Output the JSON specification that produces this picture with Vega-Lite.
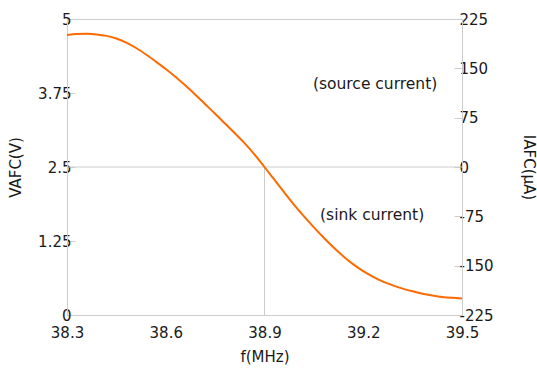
{
  "$schema": "https://vega.github.io/schema/vega-lite/v6.json",
  "width": 395,
  "height": 296,
  "autosize": "none",
  "padding": {"left": 67, "top": 19, "right": 75, "bottom": 61},
  "config": {
    "font": "DejaVu Sans",
    "view": {"stroke": "#cccccc", "strokeWidth": 1},
    "axis": {
      "grid": false,
      "domainColor": "#cccccc",
      "tickColor": "#cccccc",
      "labelFontSize": 15,
      "labelColor": "#1a1a1a",
      "titleFontSize": 15,
      "titleFontWeight": "normal",
      "titleColor": "#1a1a1a",
      "labelExpr": "'' + datum.value"
    }
  },
  "encoding": {
    "x": {
      "field": "f",
      "type": "quantitative",
      "scale": {"domain": [38.3, 39.5], "nice": false, "zero": false},
      "axis": {
        "title": "f(MHz)",
        "values": [38.3, 38.6, 38.9, 39.2, 39.5],
        "ticks": false,
        "labelFlush": false,
        "labelPadding": 10,
        "titleY": 41,
        "titleBaseline": "middle"
      }
    }
  },
  "layer": [
    {
      "encoding": {
        "y": {
          "field": "V",
          "type": "quantitative",
          "scale": {"domain": [0, 5], "nice": false, "zero": false},
          "axis": {
            "title": "VAFC(V)",
            "values": [0, 1.25, 2.5, 3.75, 5],
            "tickSize": -8,
            "labelPadding": 4,
            "titleX": -52,
            "titleY": 148,
            "titleBaseline": "middle"
          }
        }
      },
      "layer": [
        {
          "data": {"values": [{"f": 38.3, "V": 2.5}, {"f": 39.5, "V": 2.5}]},
          "mark": {"type": "line", "color": "#cccccc", "strokeWidth": 1},
          "encoding": {}
        },
        {
          "data": {"values": [{"f": 38.9, "V": 0}, {"f": 38.9, "V": 2.5}]},
          "mark": {"type": "line", "color": "#cccccc", "strokeWidth": 1},
          "encoding": {}
        },
        {
          "data": {
            "values": [
              {"f": 38.30, "V": 4.73},
              {"f": 38.33, "V": 4.745},
              {"f": 38.36, "V": 4.75},
              {"f": 38.39, "V": 4.74},
              {"f": 38.42, "V": 4.715},
              {"f": 38.45, "V": 4.67},
              {"f": 38.48, "V": 4.6},
              {"f": 38.51, "V": 4.51},
              {"f": 38.54, "V": 4.4},
              {"f": 38.57, "V": 4.28},
              {"f": 38.60, "V": 4.155},
              {"f": 38.63, "V": 4.02},
              {"f": 38.66, "V": 3.875},
              {"f": 38.69, "V": 3.72},
              {"f": 38.72, "V": 3.56},
              {"f": 38.75, "V": 3.4},
              {"f": 38.78, "V": 3.235},
              {"f": 38.81, "V": 3.07},
              {"f": 38.84, "V": 2.9},
              {"f": 38.87, "V": 2.71},
              {"f": 38.90, "V": 2.5},
              {"f": 38.93, "V": 2.285},
              {"f": 38.96, "V": 2.07},
              {"f": 38.99, "V": 1.86},
              {"f": 39.02, "V": 1.665},
              {"f": 39.05, "V": 1.48},
              {"f": 39.08, "V": 1.305},
              {"f": 39.11, "V": 1.14},
              {"f": 39.14, "V": 0.99},
              {"f": 39.17, "V": 0.855},
              {"f": 39.20, "V": 0.74},
              {"f": 39.23, "V": 0.645},
              {"f": 39.26, "V": 0.565},
              {"f": 39.29, "V": 0.5},
              {"f": 39.32, "V": 0.445},
              {"f": 39.35, "V": 0.4},
              {"f": 39.38, "V": 0.36},
              {"f": 39.41, "V": 0.33},
              {"f": 39.44, "V": 0.305},
              {"f": 39.47, "V": 0.29},
              {"f": 39.50, "V": 0.28}
            ]
          },
          "mark": {"type": "line", "color": "#ff6a00", "strokeWidth": 2, "interpolate": "monotone"},
          "encoding": {}
        }
      ]
    },
    {
      "data": {
        "values": [
          {"f": 39.236, "I": 126, "label": "(source current)"},
          {"f": 39.227, "I": -73, "label": "(sink current)"}
        ]
      },
      "mark": {"type": "text", "fontSize": 15.5, "color": "#1a1a1a", "align": "center", "baseline": "middle"},
      "encoding": {
        "y": {
          "field": "I",
          "type": "quantitative",
          "scale": {"domain": [-225, 225], "nice": false, "zero": false},
          "axis": {
            "orient": "right",
            "title": "IAFC(μA)",
            "values": [-225, -150, -75, 0, 75, 150, 225],
            "tickSize": -8,
            "labelPadding": 5,
            "titleX": 66,
            "titleY": 148,
            "titleBaseline": "middle"
          }
        },
        "text": {"field": "label"}
      }
    }
  ],
  "resolve": {"scale": {"y": "independent"}}
}
